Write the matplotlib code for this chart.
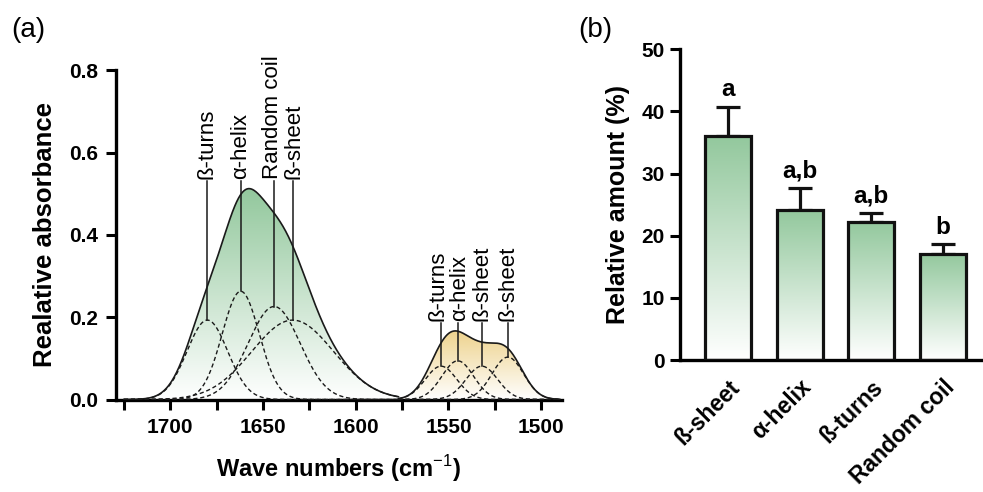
import numpy as np
import matplotlib
matplotlib.use('Agg')
import matplotlib.pyplot as plt
from matplotlib.colors import LinearSegmentedColormap

plt.rcParams['font.family'] = ['Liberation Sans', 'DejaVu Sans']
plt.rcParams['mathtext.fontset'] = 'custom'
plt.rcParams['mathtext.rm'] = 'Liberation Sans'
plt.rcParams['mathtext.bf'] = 'Liberation Sans:bold'

# Gaussian bands fitted to the amide I region (cm-1, absorbance, sigma)
amide1_centers = [1680, 1662, 1644, 1634]
amide1_heights = [0.193, 0.263, 0.226, 0.193]
amide1_widths = [11, 10, 14, 22]
amide1_labels = ['ß-turns', 'α-helix', 'Random coil', 'ß-sheet']

# Gaussian bands fitted to the amide II region
amide2_centers = [1554, 1545, 1532, 1518]
amide2_heights = [0.081, 0.094, 0.081, 0.103]
amide2_widths = [8.5, 8.5, 8.5, 8.5]
amide2_labels = ['ß-turns', 'α-helix', 'ß-sheet', 'ß-sheet']

# Secondary structure content
structures = ['ß-sheet', 'α-helix', 'ß-turns', 'Random coil']
amounts = [36.0, 24.1, 22.2, 17.1]
amount_err = [4.7, 3.6, 1.5, 1.5]
groups = ['a', 'a,b', 'a,b', 'b']

GREEN = '#93c89d'
YELLOW = '#eed38e'


def gauss(x, c, h, w):
    return h * np.exp(-(x - c) ** 2 / (2 * w ** 2))


def gradient_fill(ax, x, y, top, color):
    cmap = LinearSegmentedColormap.from_list('g', ['#ffffff', color])
    poly = ax.fill_between(x, y, 0, color='none', lw=0)
    grad = np.linspace(0, 1, 256).reshape(-1, 1)
    im = ax.imshow(grad, extent=[x.max(), x.min(), 0, top], origin='lower',
                   aspect='auto', cmap=cmap, zorder=1, interpolation='bicubic')
    im.set_clip_path(poly.get_paths()[0], transform=ax.transData)


def draw_band(ax, x, centers, heights, widths, labels, color, label_y,
              nudge=None):
    comps = [gauss(x, c, h, w) for c, h, w in zip(centers, heights, widths)]
    total = np.sum(comps, axis=0)
    gradient_fill(ax, x, total, total.max(), color)
    ax.plot(x, total, color='#1a1a1a', lw=1.2, zorder=4)
    for comp in comps:
        ax.plot(x, comp, color='#1a1a1a', lw=1.0, ls=(0, (3, 2)), zorder=3)
    if nudge is None:
        nudge = [0] * len(centers)
    for c, h, lab, dx in zip(centers, heights, labels, nudge):
        ax.plot([c, c], [h, label_y - 0.004], color='#1a1a1a', lw=1.1, zorder=5)
        ax.text(c + dx, label_y, lab, rotation=90, ha='center', va='bottom',
                fontsize=16, zorder=5)


fig = plt.figure(figsize=(9.83, 4.92), dpi=100)

# (a) deconvoluted FTIR spectrum
ax1 = fig.add_axes([0.1185, 0.188, 0.4528, 0.669])
x1 = np.linspace(1725, 1577, 600)
x2 = np.linspace(1577, 1490, 400)
draw_band(ax1, x1, amide1_centers, amide1_heights, amide1_widths,
          amide1_labels, GREEN, 0.535, nudge=[0, 0, 0.9, -0.9])
draw_band(ax1, x2, amide2_centers, amide2_heights, amide2_widths,
          amide2_labels, YELLOW, 0.19, nudge=[1.8, -0.8, 0, 0])

ax1.set_xlim(1729, 1489)
ax1.set_ylim(0, 0.8)
ax1.set_xticks(np.arange(1725, 1499, -25), minor=True)
ax1.set_xticks([1700, 1650, 1600, 1550, 1500])
ax1.set_yticks([0.0, 0.2, 0.4, 0.6, 0.8])
ax1.set_yticklabels(['0.0', '0.2', '0.4', '0.6', '0.8'])
ax1.tick_params(which='both', direction='out', length=7, width=2.2,
                labelsize=15, pad=6)
for lab in ax1.get_xticklabels() + ax1.get_yticklabels():
    lab.set_fontweight('bold')
for s in ['top', 'right']:
    ax1.spines[s].set_visible(False)
for s in ['left', 'bottom']:
    ax1.spines[s].set_linewidth(2.4)
ax1.set_xlabel(r'Wave numbers (cm$^{-1}$)', fontsize=17, fontweight='bold',
               labelpad=12)
ax1.set_ylabel('Realative absorbance', fontsize=18.5, fontweight='bold',
               labelpad=9)

# (b) relative amount of each structure
ax2 = fig.add_axes([0.692, 0.268, 0.308, 0.632])
pos = np.arange(len(structures))
bar_w = 0.64
bar_cmap = LinearSegmentedColormap.from_list('b', ['#ffffff', GREEN])
grad = np.linspace(0, 1, 256).reshape(-1, 1)
bars = ax2.bar(pos, amounts, width=bar_w, color='none', edgecolor='#111111',
               lw=2.3, zorder=3)
for b, v in zip(bars, amounts):
    im = ax2.imshow(grad, extent=[b.get_x(), b.get_x() + bar_w, 0, v],
                    origin='lower', aspect='auto', cmap=bar_cmap, zorder=2)
    im.set_clip_path(b)
ax2.errorbar(pos, amounts, yerr=[np.zeros(len(amounts)), amount_err],
             fmt='none', ecolor='#111111', elinewidth=2.3, capsize=8.5,
             capthick=2.3, zorder=1)
for p, v, e, g in zip(pos, amounts, amount_err, groups):
    ax2.annotate(g, (p, v + e), xytext=(0, 4), textcoords='offset points',
                 ha='center', va='bottom', fontsize=17.5, fontweight='bold')

ax2.set_xlim(-0.667, 3.56)
ax2.set_ylim(0, 50)
ax2.set_yticks([0, 10, 20, 30, 40, 50])
ax2.set_xticks(pos)
ax2.set_xticklabels(structures, rotation=45, ha='right',
                    rotation_mode='anchor', fontsize=16.5, fontweight='bold')
ax2.tick_params(axis='y', direction='out', length=7, width=2.2,
                labelsize=15, pad=4)
ax2.tick_params(axis='x', length=0, pad=11)
for lab in ax2.get_yticklabels():
    lab.set_fontweight('bold')
for s in ['top', 'right']:
    ax2.spines[s].set_visible(False)
for s in ['left', 'bottom']:
    ax2.spines[s].set_linewidth(2.4)
ax2.set_ylabel('Relative amount (%)', fontsize=18, fontweight='bold',
               labelpad=8)

fig.text(0.011, 0.925, '(a)', fontsize=20)
fig.text(0.588, 0.925, '(b)', fontsize=20)

fig.savefig('out.png', dpi=100)
